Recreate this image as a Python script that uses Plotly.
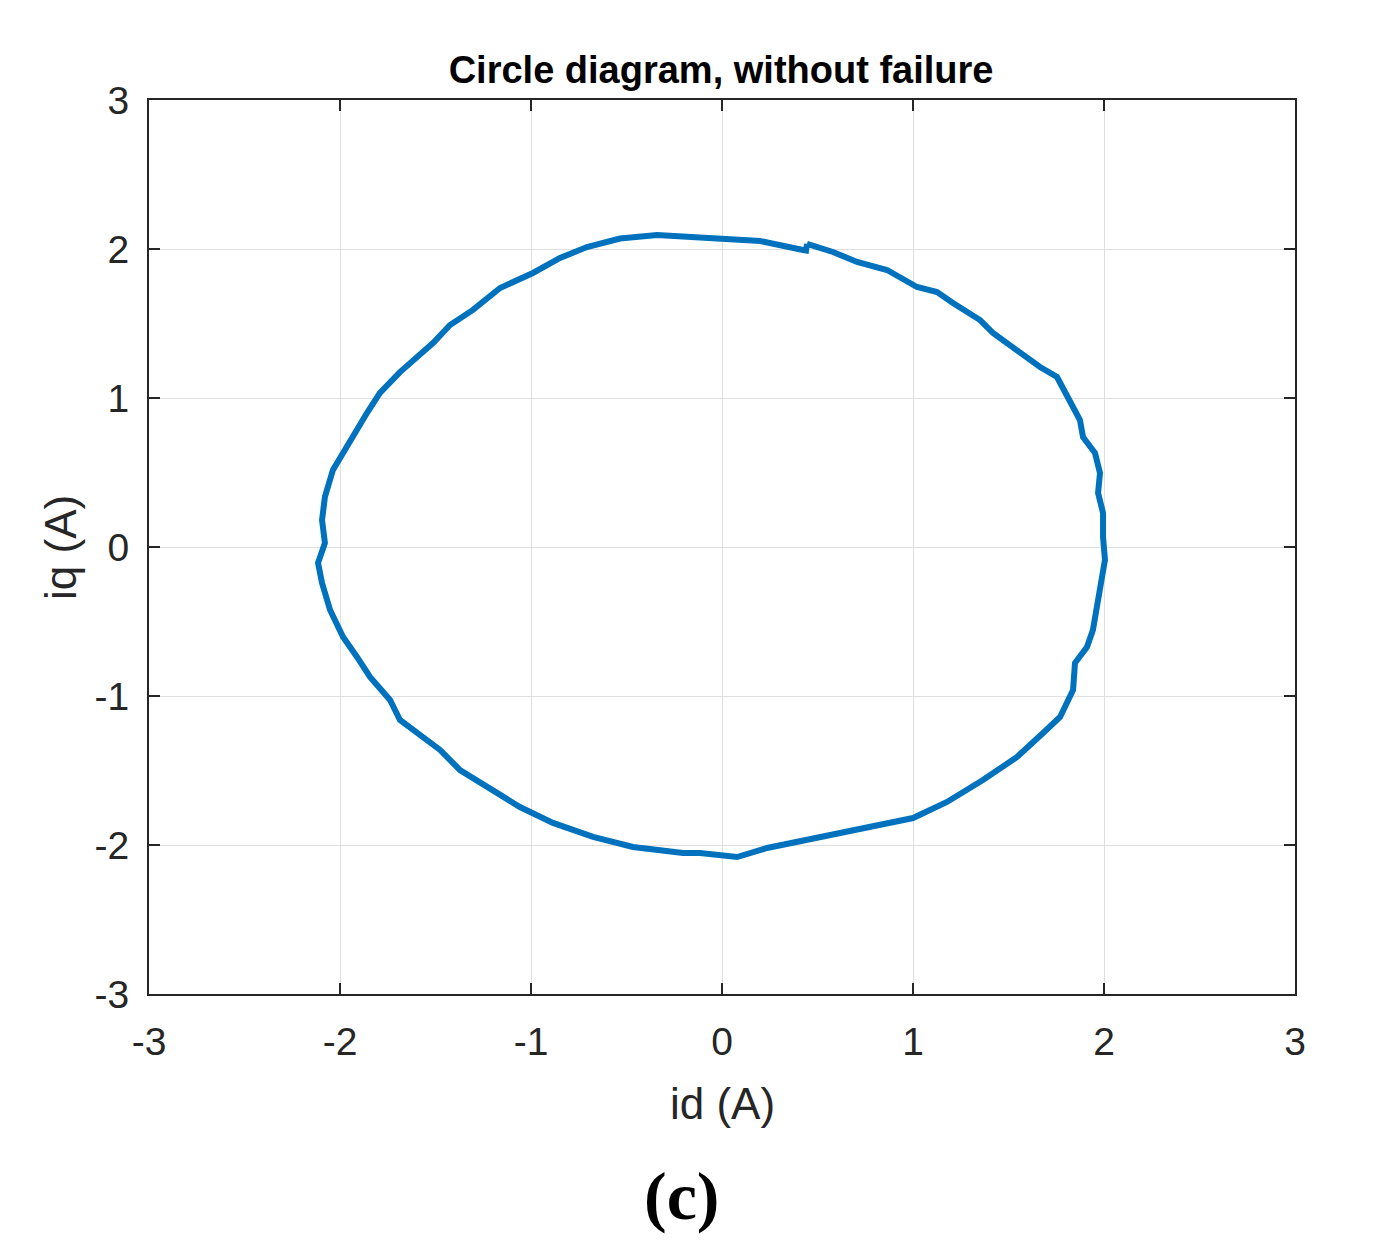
import plotly.graph_objects as go

# Traced current locus (clockwise from the small step near id=0.45)
id_vals = [0.445, 0.581, 0.707, 0.864, 1.021, 1.126, 1.209, 1.351, 1.419, 1.545,
           1.665, 1.754, 1.806, 1.874, 1.890, 1.953, 1.979, 1.969, 1.995, 1.995,
           2.005, 1.979, 1.963, 1.942, 1.911, 1.848, 1.838, 1.770, 1.681, 1.545,
           1.366, 1.178, 1.000, 0.880, 0.759, 0.497, 0.236, 0.079, -0.115, -0.204, -0.466,
           -0.675, -0.885, -1.058, -1.230, -1.372, -1.476, -1.597, -1.686, -1.738, -1.843,
           -1.911, -1.984, -2.052, -2.094, -2.115, -2.079, -2.094, -2.079, -2.037, -1.948,
           -1.859, -1.791, -1.686, -1.513, -1.424, -1.304, -1.162, -0.990, -0.848, -0.707,
           -0.534, -0.340, -0.115, 0.199, 0.424, 0.440, 0.445]
iq_vals = [2.034, 1.980, 1.913, 1.859, 1.745, 1.711, 1.638, 1.523, 1.436, 1.322,
           1.208, 1.141, 1.007, 0.852, 0.738, 0.631, 0.497, 0.362, 0.228, 0.067,
           -0.087, -0.289, -0.403, -0.557, -0.671, -0.779, -0.960, -1.141, -1.248, -1.409,
           -1.564, -1.711, -1.819, -1.850, -1.879, -1.946, -2.020, -2.081, -2.054, -2.054, -2.013,
           -1.946, -1.852, -1.745, -1.611, -1.497, -1.362, -1.248, -1.161, -1.027, -0.872,
           -0.738, -0.604, -0.423, -0.242, -0.107, 0.027, 0.181, 0.336, 0.517, 0.718,
           0.899, 1.034, 1.174, 1.369, 1.490, 1.591, 1.738, 1.839, 1.940, 2.013,
           2.070, 2.094, 2.074, 2.054, 1.993, 1.990, 2.034]

tick_vals = [-3, -2, -1, 0, 1, 2, 3]
tick_text = ["-3", "-2", "-1", "0", "1", "2", "3"]

title_text = "<b>Circle diagram, without failure</b>"
x_title = "id (A)"
y_title = "iq (A)"
panel_label = "<b>(c)</b>"

fig = go.Figure()
fig.add_trace(go.Scatter(x=id_vals, y=iq_vals, mode="lines",
                         line=dict(color="#0072BD", width=6), showlegend=False))

axis_common = dict(
    range=[-3, 3], tickvals=tick_vals, ticktext=tick_text,
    showgrid=True, gridcolor="#DFDFDF", gridwidth=1,
    showline=True, linecolor="#262626", linewidth=2, mirror="ticks",
    ticks="inside", ticklen=11, tickwidth=2, tickcolor="#262626",
    zeroline=False,
    tickfont=dict(family="Liberation Sans, Arial", size=39, color="#262626"),
)

fig.update_layout(
    width=1380, height=1248,
    margin=dict(l=141, r=93, t=92, b=262),
    paper_bgcolor="white", plot_bgcolor="white",
    xaxis=dict(**axis_common, ticklabelstandoff=12),
    yaxis=dict(**axis_common, ticklabelstandoff=10),
    title=dict(text=title_text, x=0.5167, xanchor="center", y=0.9503, yanchor="middle",
               font=dict(family="Liberation Sans, Arial", size=38, color="black")),
    annotations=[
        dict(text=x_title, xref="paper", yref="paper", x=0.5, y=-0.122,
             xanchor="center", yanchor="middle", showarrow=False,
             font=dict(family="Liberation Sans, Arial", size=44, color="#262626")),
        dict(text=y_title, xref="paper", yref="paper", x=-0.0777, y=0.5,
             xanchor="center", yanchor="middle", showarrow=False, textangle=-90,
             font=dict(family="Liberation Sans, Arial", size=44, color="#262626")),
        dict(text=panel_label, xref="paper", yref="paper", x=0.4647, y=-0.226,
             xanchor="center", yanchor="middle", showarrow=False,
             font=dict(family="Liberation Serif, serif", size=68, color="black")),
    ],
)

fig.write_html("out.html")
